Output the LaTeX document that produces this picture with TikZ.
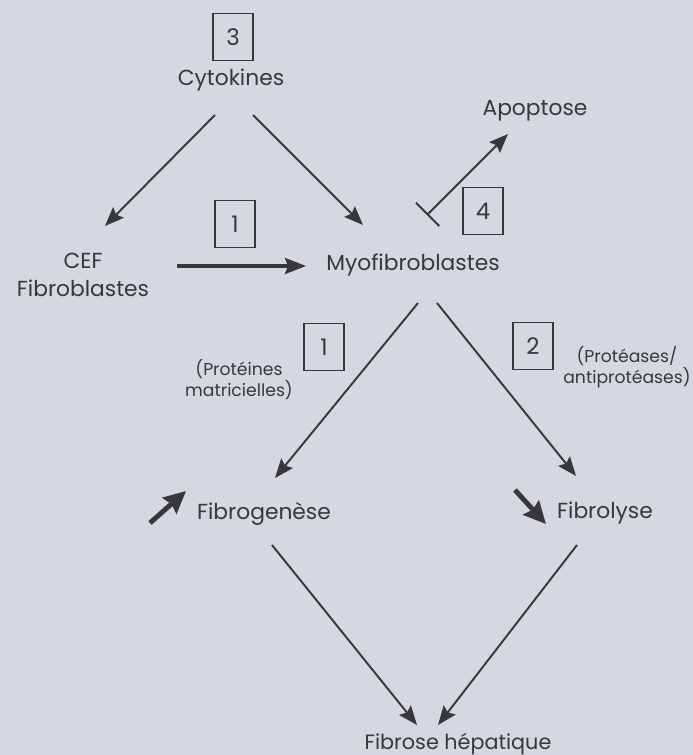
\documentclass[tikz,border=0pt]{standalone}
\usepackage{fontspec}
\setmainfont{Poppins}
\usepackage{xcolor}
\definecolor{paper}{HTML}{D5D8DF}
\definecolor{ink}{HTML}{38383B}
\usepackage{tikz}
\usetikzlibrary{positioning,arrows.meta}

\tikzset{
  lbl/.style={text=ink, inner sep=1pt, font=\fontsize{12.4}{15.5}\selectfont},
  note/.style={text=ink, inner sep=1pt, align=center, font=\fontsize{9.8}{12}\selectfont},
  numbox/.style={draw=ink, line width=.6pt, text=ink, inner sep=0pt,
    minimum width=.8cm, minimum height=.94cm, font=\fontsize{13}{16}\selectfont},
  link/.style={draw=ink, line width=1.1pt, -{Stealth[length=3.8mm,width=3mm,inset=.6mm]}},
  boldlink/.style={draw=ink, line width=1.8pt, -{Stealth[length=4.2mm,width=3.2mm,inset=.6mm]}},
  trend/.style={draw=ink, line width=2.8pt, -{Stealth[length=4.4mm,width=4.2mm,inset=.5mm]}}
}

\begin{document}
\begin{tikzpicture}[x=0.02cm,y=-0.02cm]
  \fill[paper] (0,0) rectangle (693,755);
  \useasboundingbox (0,0) rectangle (693,755);

  %%% cells and outcomes
  \node[numbox] (n3) at (233,37) {3};
  \node[lbl] (cyto) at (231,80) {Cytokines};
  \node[lbl, align=center] (cef) at (83,275) {CEF\\Fibroblastes};
  \node[lbl] (myo) at (413,265) {Myofibroblastes};
  \node[lbl] (apo) at (535,111) {Apoptose};
  \node[lbl] (genese) at (264,514) {Fibrogenèse};
  \node[lbl] (lyse) at (605,513) {Fibrolyse};
  \node[lbl, font=\fontsize{11.8}{14}\selectfont] (fibrose) at (458,744) {Fibrose hépatique};

  %%% numbered boxes and notes
  \node[numbox] (n1a) at (235,224) {1};
  \node[numbox] (n4) at (483,211) {4};
  \node[numbox] (n1b) at (324,347) {1};
  \node[numbox] (n2) at (533,346) {2};
  \node[note] (prot) at (239,380) {(Protéines\\matricielles)};
  \node[note] (protea) at (627,367) {(Protéases/\\antiprotéases)};

  %%% ends of the connectors
  \coordinate (cytoL) at (215,115);
  \coordinate (cytoR) at (253,115);
  \coordinate (cefT) at (105,226);
  \coordinate (myoT) at (363,225);
  \coordinate (cefR) at (177,266);
  \coordinate (myoL) at (306,266);
  \coordinate (myoA) at (427,215);
  \coordinate (apoB) at (508,134);
  \coordinate (myoBL) at (418,303);
  \coordinate (myoBR) at (437,303);
  \coordinate (geneseT) at (275,478);
  \coordinate (lyseT) at (576,476);
  \coordinate (geneseB) at (272,545);
  \coordinate (lyseB) at (577,545);
  \coordinate (fibL) at (417,725);
  \coordinate (fibR) at (438,725);
  \coordinate (upA) at (150,523);
  \coordinate (upB) at (186,491);
  \coordinate (dnA) at (515,490);
  \coordinate (dnB) at (546,524);

  \draw[link] (cytoL) -- (cefT);
  \draw[link] (cytoR) -- (myoT);
  \draw[boldlink] (cefR) -- (myoL);
  \draw[draw=ink, line width=1.1pt, {Bar[width=6.6mm]}-{Stealth[length=3.8mm,width=3mm,inset=.6mm]}] (myoA) -- (apoB);
  \draw[link] (myoBL) -- (geneseT);
  \draw[link] (myoBR) -- (lyseT);
  \draw[link] (geneseB) -- (fibL);
  \draw[link] (lyseB) -- (fibR);

  %%% up / down trends
  \draw[trend] (upA) -- (upB);
  \draw[trend] (dnA) -- (dnB);
\end{tikzpicture}
\end{document}
